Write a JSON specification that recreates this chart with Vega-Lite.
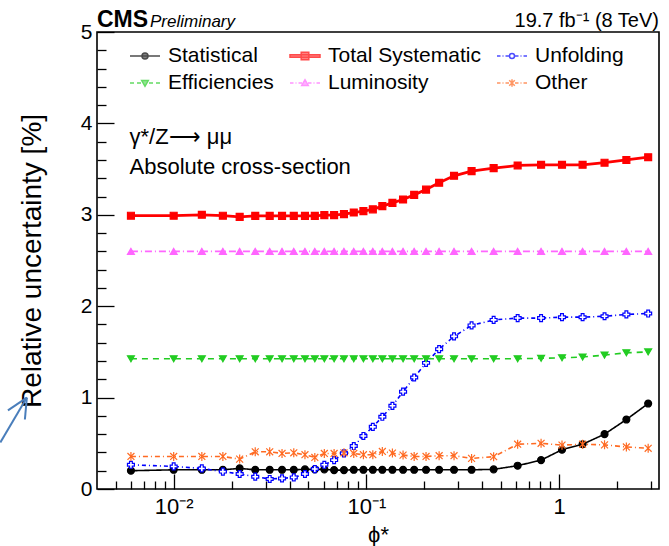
{
  "$schema": "https://vega.github.io/schema/vega-lite/v6.json",
  "width": 562,
  "height": 457,
  "autosize": "none",
  "padding": {"left": 97, "top": 32, "right": 10, "bottom": 57},
  "background": "white",
  "config": {
    "view": {"stroke": "black", "strokeWidth": 1.6},
    "font": "Liberation Sans",
    "axis": {
      "domain": false,
      "grid": false,
      "labelFont": "Liberation Sans",
      "labelColor": "black",
      "tickColor": "black",
      "tickWidth": 1.3,
      "titleColor": "black",
      "titleFont": "Liberation Sans",
      "titleFontWeight": "normal"
    }
  },
  "datasets": {
    "uncertainties": [
      {"phi": 0.006, "Statistical": 0.2, "Total Systematic": 2.99, "Unfolding": 0.265, "Efficiencies": 1.425, "Luminosity": 2.6, "Other": 0.356},
      {"phi": 0.01, "Statistical": 0.21, "Total Systematic": 2.99, "Unfolding": 0.247, "Efficiencies": 1.425, "Luminosity": 2.6, "Other": 0.356},
      {"phi": 0.014, "Statistical": 0.21, "Total Systematic": 3.0, "Unfolding": 0.225, "Efficiencies": 1.425, "Luminosity": 2.6, "Other": 0.356},
      {"phi": 0.018, "Statistical": 0.21, "Total Systematic": 2.99, "Unfolding": 0.19, "Efficiencies": 1.425, "Luminosity": 2.6, "Other": 0.356},
      {"phi": 0.022, "Statistical": 0.225, "Total Systematic": 2.977, "Unfolding": 0.164, "Efficiencies": 1.425, "Luminosity": 2.6, "Other": 0.327},
      {"phi": 0.0265, "Statistical": 0.21, "Total Systematic": 2.988, "Unfolding": 0.135, "Efficiencies": 1.425, "Luminosity": 2.6, "Other": 0.407},
      {"phi": 0.0315, "Statistical": 0.21, "Total Systematic": 2.988, "Unfolding": 0.11, "Efficiencies": 1.425, "Luminosity": 2.6, "Other": 0.407},
      {"phi": 0.0365, "Statistical": 0.21, "Total Systematic": 2.988, "Unfolding": 0.116, "Efficiencies": 1.425, "Luminosity": 2.6, "Other": 0.389},
      {"phi": 0.042, "Statistical": 0.21, "Total Systematic": 2.988, "Unfolding": 0.127, "Efficiencies": 1.425, "Luminosity": 2.6, "Other": 0.396},
      {"phi": 0.048, "Statistical": 0.215, "Total Systematic": 2.988, "Unfolding": 0.164, "Efficiencies": 1.425, "Luminosity": 2.6, "Other": 0.375},
      {"phi": 0.054, "Statistical": 0.215, "Total Systematic": 2.988, "Unfolding": 0.218, "Efficiencies": 1.425, "Luminosity": 2.6, "Other": 0.345},
      {"phi": 0.0605, "Statistical": 0.215, "Total Systematic": 2.996, "Unfolding": 0.265, "Efficiencies": 1.425, "Luminosity": 2.6, "Other": 0.389},
      {"phi": 0.068, "Statistical": 0.207, "Total Systematic": 2.996, "Unfolding": 0.316, "Efficiencies": 1.425, "Luminosity": 2.6, "Other": 0.389},
      {"phi": 0.0765, "Statistical": 0.207, "Total Systematic": 3.007, "Unfolding": 0.39, "Efficiencies": 1.425, "Luminosity": 2.6, "Other": 0.396},
      {"phi": 0.086, "Statistical": 0.21, "Total Systematic": 3.025, "Unfolding": 0.47, "Efficiencies": 1.425, "Luminosity": 2.6, "Other": 0.389},
      {"phi": 0.0965, "Statistical": 0.21, "Total Systematic": 3.04, "Unfolding": 0.58, "Efficiencies": 1.425, "Luminosity": 2.6, "Other": 0.375},
      {"phi": 0.108, "Statistical": 0.21, "Total Systematic": 3.06, "Unfolding": 0.68, "Efficiencies": 1.425, "Luminosity": 2.6, "Other": 0.375},
      {"phi": 0.121, "Statistical": 0.21, "Total Systematic": 3.095, "Unfolding": 0.79, "Efficiencies": 1.425, "Luminosity": 2.6, "Other": 0.411},
      {"phi": 0.1365, "Statistical": 0.21, "Total Systematic": 3.13, "Unfolding": 0.91, "Efficiencies": 1.425, "Luminosity": 2.6, "Other": 0.393},
      {"phi": 0.155, "Statistical": 0.21, "Total Systematic": 3.167, "Unfolding": 1.065, "Efficiencies": 1.425, "Luminosity": 2.6, "Other": 0.371},
      {"phi": 0.177, "Statistical": 0.21, "Total Systematic": 3.218, "Unfolding": 1.22, "Efficiencies": 1.425, "Luminosity": 2.6, "Other": 0.356},
      {"phi": 0.204, "Statistical": 0.21, "Total Systematic": 3.276, "Unfolding": 1.38, "Efficiencies": 1.425, "Luminosity": 2.6, "Other": 0.356},
      {"phi": 0.2385, "Statistical": 0.21, "Total Systematic": 3.35, "Unfolding": 1.53, "Efficiencies": 1.425, "Luminosity": 2.6, "Other": 0.364},
      {"phi": 0.285, "Statistical": 0.21, "Total Systematic": 3.427, "Unfolding": 1.67, "Efficiencies": 1.425, "Luminosity": 2.6, "Other": 0.364},
      {"phi": 0.3515, "Statistical": 0.21, "Total Systematic": 3.478, "Unfolding": 1.79, "Efficiencies": 1.425, "Luminosity": 2.6, "Other": 0.335},
      {"phi": 0.4575, "Statistical": 0.215, "Total Systematic": 3.51, "Unfolding": 1.85, "Efficiencies": 1.425, "Luminosity": 2.6, "Other": 0.353},
      {"phi": 0.6095, "Statistical": 0.255, "Total Systematic": 3.54, "Unfolding": 1.87, "Efficiencies": 1.425, "Luminosity": 2.6, "Other": 0.49},
      {"phi": 0.8065, "Statistical": 0.316, "Total Systematic": 3.547, "Unfolding": 1.87, "Efficiencies": 1.43, "Luminosity": 2.6, "Other": 0.5},
      {"phi": 1.0355, "Statistical": 0.43, "Total Systematic": 3.547, "Unfolding": 1.88, "Efficiencies": 1.436, "Luminosity": 2.6, "Other": 0.48},
      {"phi": 1.3245, "Statistical": 0.49, "Total Systematic": 3.547, "Unfolding": 1.88, "Efficiencies": 1.444, "Luminosity": 2.6, "Other": 0.49},
      {"phi": 1.7215, "Statistical": 0.6, "Total Systematic": 3.57, "Unfolding": 1.89, "Efficiencies": 1.465, "Luminosity": 2.6, "Other": 0.483},
      {"phi": 2.2345, "Statistical": 0.76, "Total Systematic": 3.6, "Unfolding": 1.91, "Efficiencies": 1.49, "Luminosity": 2.6, "Other": 0.46},
      {"phi": 2.8995, "Statistical": 0.935, "Total Systematic": 3.63, "Unfolding": 1.92, "Efficiencies": 1.5, "Luminosity": 2.6, "Other": 0.445}
    ]
  },
  "layer": [
    {
      "data": {"name": "uncertainties"},
      "transform": [
        {"fold": ["Statistical", "Total Systematic", "Unfolding", "Efficiencies", "Luminosity", "Other"], "as": ["source", "unc"]},
        {"filter": "datum.source !== 'Total Systematic'"}
      ],
      "mark": {"type": "line", "strokeWidth": 1.6},
      "encoding": {
        "x": {
          "field": "phi", "type": "quantitative",
          "scale": {"type": "log", "domain": [0.004, 3.3], "nice": false},
          "axis": {
            "title": "ϕ*",
            "titleFontSize": 22,
            "titlePadding": 0,
            "values": [0.005, 0.006, 0.007, 0.008, 0.009, 0.01, 0.02, 0.03, 0.04, 0.05, 0.06, 0.07, 0.08, 0.09, 0.1, 0.2, 0.3, 0.4, 0.5, 0.6, 0.7, 0.8, 0.9, 1, 2, 3],
            "tickCount": 100,
            "labelExpr": "datum.value === 0.01 ? '10⁻²' : datum.value === 0.1 ? '10⁻¹' : datum.value === 1 ? '1' : ''",
            "labelFontSize": 22,
            "labelOverlap": false,
            "labelFlush": false,
            "labelPadding": 22,
            "tickSize": {"condition": {"test": "indexof([0.01, 0.1, 1], datum.value) >= 0", "value": -15}, "value": -8}
          }
        },
        "y": {
          "field": "unc", "type": "quantitative",
          "scale": {"domain": [0, 5], "nice": false, "zero": true},
          "axis": {
            "title": "Relative uncertainty [%]",
            "titleFontSize": 28,
            "titlePadding": 34,
            "values": [0, 0.2, 0.4, 0.6, 0.8, 1, 1.2, 1.4, 1.6, 1.8, 2, 2.2, 2.4, 2.6, 2.8, 3, 3.2, 3.4, 3.6, 3.8, 4, 4.2, 4.4, 4.6, 4.8, 5],
            "tickCount": 100,
            "labelExpr": "datum.value === round(datum.value) ? toString(datum.value) : ''",
            "labelFontSize": 21,
            "labelOverlap": false,
            "labelFlush": false,
            "labelPadding": 22,
            "tickSize": {"condition": {"test": "datum.value === round(datum.value)", "value": -17}, "value": -9}
          }
        },
        "color": {
          "field": "source", "type": "nominal", "legend": null,
          "scale": {"domain": ["Statistical", "Unfolding", "Efficiencies", "Luminosity", "Other"], "range": ["#000000", "#0000ff", "#22cc22", "#ff66ff", "#ff6a22"]}
        },
        "strokeDash": {
          "field": "source", "type": "nominal", "legend": null,
          "scale": {"domain": ["Statistical", "Unfolding", "Efficiencies", "Luminosity", "Other"], "range": [[1, 0], [4, 3, 1, 3], [6, 5], [7, 3, 1, 3], [5, 3, 1, 3]]}
        }
      }
    },
    {
      "data": {"name": "uncertainties"},
      "transform": [
        {"fold": ["Total Systematic"], "as": ["source", "unc"]}
      ],
      "mark": {"type": "line", "strokeWidth": 2.8, "color": "#ff0000"},
      "encoding": {
        "x": {"field": "phi", "type": "quantitative"},
        "y": {"field": "unc", "type": "quantitative"}
      }
    },
    {
      "data": {"name": "uncertainties"},
      "transform": [
        {"fold": ["Statistical", "Total Systematic", "Unfolding", "Efficiencies", "Luminosity", "Other"], "as": ["source", "unc"]}
      ],
      "mark": {"type": "point", "filled": true, "size": 48, "strokeWidth": 1.2, "opacity": 1},
      "encoding": {
        "x": {"field": "phi", "type": "quantitative"},
        "y": {"field": "unc", "type": "quantitative"},
        "shape": {
          "field": "source", "type": "nominal", "legend": null,
          "scale": {"domain": ["Statistical", "Total Systematic", "Unfolding", "Efficiencies", "Luminosity", "Other"], "range": ["circle", "square", "cross", "triangle-down", "triangle-up", "M-1,-1L1,1M-1,1L1,-1M0,-1.3V1.3"]}
        },
        "fill": {
          "field": "source", "type": "nominal", "legend": null,
          "scale": {"domain": ["Statistical", "Total Systematic", "Unfolding", "Efficiencies", "Luminosity", "Other"], "range": ["#000000", "#ff0000", "#ffffff", "#22cc22", "#ff66ff", "#ff6a22"]}
        },
        "stroke": {
          "field": "source", "type": "nominal", "legend": null,
          "scale": {"domain": ["Statistical", "Total Systematic", "Unfolding", "Efficiencies", "Luminosity", "Other"], "range": ["#000000", "#ff0000", "#0000ff", "#22cc22", "#ff66ff", "#ff6a22"]}
        }
      }
    },
    {
      "data": {"name": "uncertainties"},
      "transform": [
        {"fold": ["Statistical", "Total Systematic", "Unfolding", "Efficiencies", "Luminosity", "Other"], "as": ["source", "unc"]},
        {"filter": "false"}
      ],
      "mark": {"type": "point", "filled": true, "strokeWidth": 1.5},
      "encoding": {
        "x": {"field": "phi", "type": "quantitative"},
        "y": {"field": "unc", "type": "quantitative"},
        "shape": {
          "field": "source", "type": "nominal",
          "scale": {
            "domain": ["Statistical", "Total Systematic", "Unfolding", "Efficiencies", "Luminosity", "Other"],
            "range": [
              "M-1.5,0H1.5M-0.3,0A0.3,0.3,0,1,1,0.3,0A0.3,0.3,0,1,1,-0.3,0Z",
              "M-1.5,-0.13H1.5V0.13H-1.5ZM-0.38,-0.38H0.38V0.38H-0.38Z",
              "M-1.5,0H-1.15M-0.95,0H-0.85M-0.65,0H-0.3M0.3,0H0.65M0.85,0H0.95M1.15,0H1.5M-0.25,0A0.25,0.25,0,1,1,0.25,0A0.25,0.25,0,1,1,-0.25,0Z",
              "M-1.5,0H-1.1M-0.8,0H-0.4M0.4,0H0.8M1.1,0H1.5M-0.33,-0.25H0.33L0,0.33Z",
              "M-1.5,0H-1.15M-0.95,0H-0.85M-0.65,0H-0.3M0.3,0H0.65M0.85,0H0.95M1.15,0H1.5M-0.33,0.25H0.33L0,-0.33Z",
              "M-1.5,0H-1.15M-0.95,0H-0.85M-0.65,0H-0.3M0.3,0H0.65M0.85,0H0.95M1.15,0H1.5M-0.28,-0.28L0.28,0.28M-0.28,0.28L0.28,-0.28M0,-0.38V0.38"
            ]
          },
          "legend": {
            "title": null,
            "orient": "none",
            "legendX": 37,
            "legendY": 13,
            "direction": "horizontal",
            "columns": 3,
            "padding": 0,
            "symbolSize": 400,
            "symbolStrokeWidth": 1.5,
            "labelOffset": 12,
            "labelFont": "Liberation Sans",
            "labelFontSize": 21,
            "labelColor": "black",
            "labelLimit": 300,
            "columnPadding": 13,
            "rowPadding": 6
          }
        },
        "fill": {
          "field": "source", "type": "nominal",
          "scale": {"domain": ["Statistical", "Total Systematic", "Unfolding", "Efficiencies", "Luminosity", "Other"], "range": ["#000000", "#ff0000", "#ffffff", "#22cc22", "#ff66ff", "#ff6a22"]}
        },
        "stroke": {
          "field": "source", "type": "nominal",
          "scale": {"domain": ["Statistical", "Total Systematic", "Unfolding", "Efficiencies", "Luminosity", "Other"], "range": ["#000000", "#ff0000", "#0000ff", "#22cc22", "#ff66ff", "#ff6a22"]}
        }
      }
    },
    {
      "data": {"values": [{}]},
      "mark": {"type": "text", "align": "left", "baseline": "alphabetic", "font": "Liberation Sans", "fontSize": 23, "fontWeight": "bold", "color": "black"},
      "encoding": {"x": {"datum": 0.004}, "y": {"datum": 5.05}, "text": {"value": "CMS"}}
    },
    {
      "data": {"values": [{}]},
      "mark": {"type": "text", "align": "left", "baseline": "alphabetic", "font": "Liberation Sans", "fontSize": 17, "fontStyle": "italic", "color": "black", "dx": 53},
      "encoding": {"x": {"datum": 0.004}, "y": {"datum": 5.05}, "text": {"value": "Preliminary"}}
    },
    {
      "data": {"values": [{}]},
      "mark": {"type": "text", "align": "right", "baseline": "alphabetic", "font": "Liberation Sans", "fontSize": 20, "color": "black"},
      "encoding": {"x": {"datum": 3.3}, "y": {"datum": 5.05}, "text": {"value": "19.7 fb⁻¹ (8 TeV)"}}
    },
    {
      "data": {"values": [{}]},
      "mark": {"type": "text", "align": "left", "baseline": "alphabetic", "font": "Liberation Sans", "fontSize": 22, "color": "black"},
      "encoding": {"x": {"datum": 0.0059}, "y": {"datum": 3.77}, "text": {"value": "γ*/Z⟶ μμ"}}
    },
    {
      "data": {"values": [{}]},
      "mark": {"type": "text", "align": "left", "baseline": "alphabetic", "font": "Liberation Sans", "fontSize": 22, "color": "black"},
      "encoding": {"x": {"datum": 0.0059}, "y": {"datum": 3.45}, "text": {"value": "Absolute cross-section"}}
    },
    {
      "data": {"values": [{}]},
      "mark": {"type": "rule", "color": "#4a7ebb", "strokeWidth": 2},
      "encoding": {"x": {"datum": 0.00126}, "y": {"datum": 0.51}, "x2": {"datum": 0.00173}, "y2": {"datum": 1.0}}
    },
    {
      "data": {"values": [{}]},
      "mark": {"type": "rule", "color": "#4a7ebb", "strokeWidth": 2},
      "encoding": {"x": {"datum": 0.00173}, "y": {"datum": 1.0}, "x2": {"datum": 0.00138}, "y2": {"datum": 0.86}}
    },
    {
      "data": {"values": [{}]},
      "mark": {"type": "rule", "color": "#4a7ebb", "strokeWidth": 2},
      "encoding": {"x": {"datum": 0.00173}, "y": {"datum": 1.0}, "x2": {"datum": 0.00169}, "y2": {"datum": 0.76}}
    }
  ],
  "resolve": {
    "scale": {"color": "independent", "fill": "independent", "stroke": "independent", "shape": "independent", "strokeDash": "independent"}
  }
}
